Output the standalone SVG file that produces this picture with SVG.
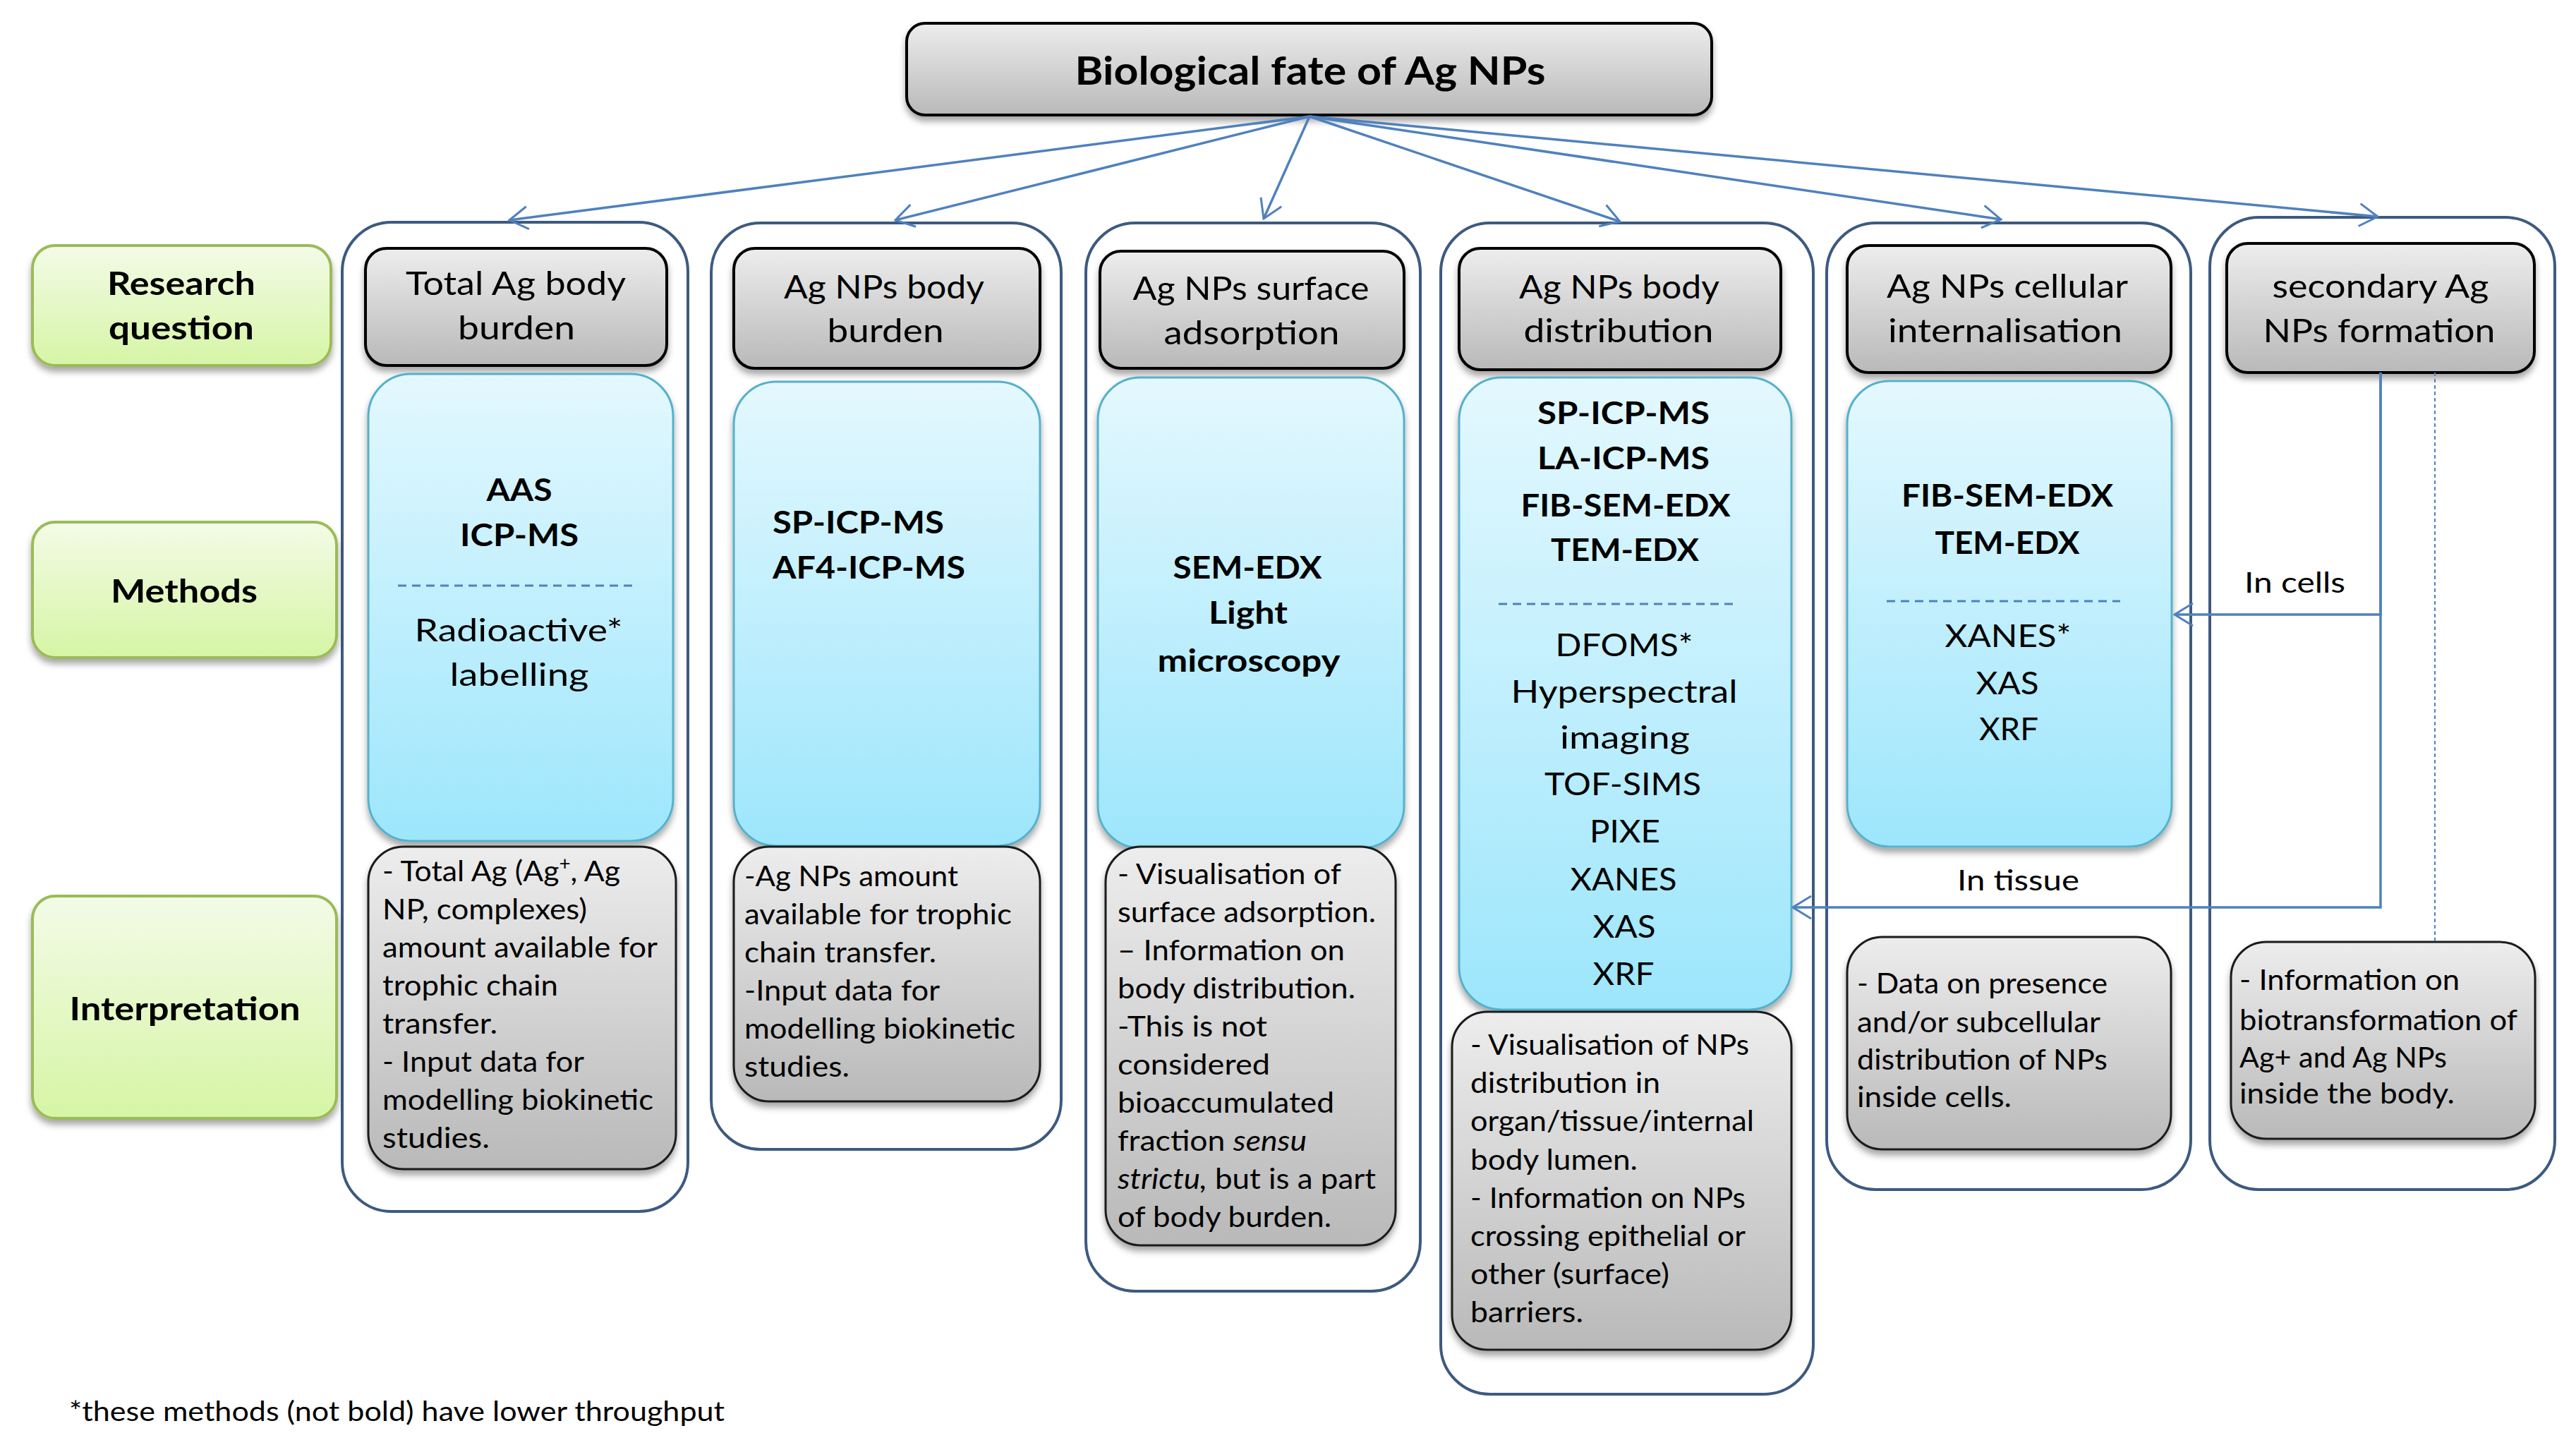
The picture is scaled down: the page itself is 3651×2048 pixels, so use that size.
<svg xmlns="http://www.w3.org/2000/svg" width="3651" height="2048" viewBox="0 0 3651 2048">
<style>
text{font-family:Lato,"Liberation Sans",Arial,sans-serif;fill:#000}
.m{text-anchor:middle}
.b{font-weight:bold}
.tt{font-size:56px;font-weight:bold}
.lab{font-size:46px;font-weight:bold}
.hd{font-size:46px}
.mt{font-size:44px}
.it{font-size:40px}
.fn{font-size:38px}
.cn{fill:none;stroke:#4f81bd;stroke-width:3.5}
.col{fill:#fff;stroke:#3d5a80;stroke-width:4}
.gray{fill:url(#gGray);stroke:#000;stroke-width:4;filter:url(#sh)}
.grayi{fill:url(#gGray);stroke:#1a1a1a;stroke-width:3;filter:url(#sh)}
.blue{fill:url(#gBlue);stroke:#55b1cc;stroke-width:3;filter:url(#sh)}
.green{fill:url(#gGreen);stroke:#9bbb59;stroke-width:4;filter:url(#sh)}
.sep{stroke:#4f81bd;stroke-width:3;stroke-dasharray:12 8;fill:none}
</style>
<defs>
<linearGradient id="gGray" x1="0" y1="0" x2="0" y2="1"><stop offset="0" stop-color="#ededed"/><stop offset="1" stop-color="#b9b9b9"/></linearGradient>
<linearGradient id="gBlue" x1="0" y1="0" x2="0" y2="1"><stop offset="0" stop-color="#e4f8fe"/><stop offset="1" stop-color="#9de6fc"/></linearGradient>
<linearGradient id="gGreen" x1="0" y1="0" x2="0" y2="1"><stop offset="0" stop-color="#f3fbe7"/><stop offset="1" stop-color="#d6f5a5"/></linearGradient>
<filter id="sh" x="-10%" y="-10%" width="120%" height="130%"><feDropShadow dx="0" dy="7" stdDeviation="5" flood-color="#000" flood-opacity="0.35"/></filter>
<marker id="ah" viewBox="0 0 30 40" refX="28" refY="20" markerWidth="30" markerHeight="40" markerUnits="userSpaceOnUse" orient="auto"><path d="M2,4 L28,20 L2,36" fill="none" stroke="#4f81bd" stroke-width="3"/></marker>
</defs>
<rect width="3651" height="2048" fill="#fff"/>

<g id="columns">
<rect id="col1" class="col" x="485" y="315" width="490" height="1402" rx="70"/>
<rect id="col2" class="col" x="1008" y="316" width="496" height="1313" rx="70"/>
<rect id="col3" class="col" x="1539" y="316" width="474" height="1514" rx="70"/>
<rect id="col4" class="col" x="2042" y="316" width="528" height="1660" rx="70"/>
<rect id="col5" class="col" x="2589" y="316" width="516" height="1370" rx="70"/>
<rect id="col6" class="col" x="3132" y="308" width="489" height="1378" rx="70"/>
</g>

<g id="title">
<rect class="gray" x="1285" y="33" width="1141" height="130" rx="26"/>
<text class="tt m" x="1857" y="120" textLength="667" lengthAdjust="spacingAndGlyphs">Biological fate of Ag NPs</text>
</g>

<g id="label-research">
<rect class="green" x="46" y="348" width="423" height="170" rx="32"/>
<text class="lab m" x="257" y="418" textLength="210" lengthAdjust="spacingAndGlyphs">Research</text>
<text class="lab m" x="257" y="481" textLength="206" lengthAdjust="spacingAndGlyphs">question</text>
</g>
<g id="label-methods">
<rect class="green" x="46" y="740" width="431" height="192" rx="32"/>
<text class="lab m" x="261" y="854" textLength="208" lengthAdjust="spacingAndGlyphs">Methods</text>
</g>
<g id="label-interpretation">
<rect class="green" x="46" y="1270" width="431" height="315" rx="32"/>
<text class="lab m" x="262" y="1446" textLength="327" lengthAdjust="spacingAndGlyphs">Interpretation</text>
</g>

<g id="h1">
<rect class="gray" x="518" y="352" width="427" height="166" rx="30"/>
<text class="hd m" x="731" y="418" textLength="312" lengthAdjust="spacingAndGlyphs">Total Ag body</text>
<text class="hd m" x="732" y="481" textLength="166" lengthAdjust="spacingAndGlyphs">burden</text>
</g>
<g id="h2">
<rect class="gray" x="1040" y="352" width="434" height="170" rx="30"/>
<text class="hd m" x="1253" y="423" textLength="284" lengthAdjust="spacingAndGlyphs">Ag NPs body</text>
<text class="hd m" x="1255" y="485" textLength="165" lengthAdjust="spacingAndGlyphs">burden</text>
</g>
<g id="h3">
<rect class="gray" x="1559" y="356" width="431" height="166" rx="30"/>
<text class="hd m" x="1773" y="425" textLength="335" lengthAdjust="spacingAndGlyphs">Ag NPs surface</text>
<text class="hd m" x="1774" y="488" textLength="249" lengthAdjust="spacingAndGlyphs">adsorption</text>
</g>
<g id="h4">
<rect class="gray" x="2068" y="352" width="456" height="172" rx="30"/>
<text class="hd m" x="2295" y="423" textLength="284" lengthAdjust="spacingAndGlyphs">Ag NPs body</text>
<text class="hd m" x="2294" y="485" textLength="269" lengthAdjust="spacingAndGlyphs">distribution</text>
</g>
<g id="h5">
<rect class="gray" x="2618" y="348" width="459" height="180" rx="30"/>
<text class="hd m" x="2845" y="422" textLength="342" lengthAdjust="spacingAndGlyphs">Ag NPs cellular</text>
<text class="hd m" x="2842" y="485" textLength="332" lengthAdjust="spacingAndGlyphs">internalisation</text>
</g>
<g id="h6">
<rect class="gray" x="3156" y="345" width="436" height="183" rx="30"/>
<text class="hd m" x="3374" y="422" textLength="307" lengthAdjust="spacingAndGlyphs">secondary Ag</text>
<text class="hd m" x="3372" y="485" textLength="329" lengthAdjust="spacingAndGlyphs">NPs formation</text>
</g>

<g id="m1">
<rect class="blue" x="522" y="530" width="432" height="662" rx="60"/>
<text class="mt b m" x="736" y="710" textLength="93" lengthAdjust="spacingAndGlyphs">AAS</text>
<text class="mt b m" x="736" y="774" textLength="168" lengthAdjust="spacingAndGlyphs">ICP-MS</text>
<line class="sep" x1="564" y1="830" x2="899" y2="830"/>
<text class="mt m" x="735" y="909" textLength="295" lengthAdjust="spacingAndGlyphs">Radioactive*</text>
<text class="mt m" x="736" y="972" textLength="197" lengthAdjust="spacingAndGlyphs">labelling</text>
</g>
<g id="m2">
<rect class="blue" x="1040" y="541" width="434" height="658" rx="60"/>
<text class="mt b" x="1095" y="756" textLength="243" lengthAdjust="spacingAndGlyphs">SP-ICP-MS</text>
<text class="mt b" x="1095" y="820" textLength="273" lengthAdjust="spacingAndGlyphs">AF4-ICP-MS</text>
</g>
<g id="m3">
<rect class="blue" x="1556" y="535" width="434" height="667" rx="60"/>
<text class="mt b m" x="1768" y="820" textLength="211" lengthAdjust="spacingAndGlyphs">SEM-EDX</text>
<text class="mt b m" x="1769" y="884" textLength="112" lengthAdjust="spacingAndGlyphs">Light</text>
<text class="mt b m" x="1770" y="952" textLength="259" lengthAdjust="spacingAndGlyphs">microscopy</text>
</g>
<g id="m4">
<rect class="blue" x="2068" y="535" width="471" height="896" rx="60"/>
<text class="mt b m" x="2301" y="601" textLength="244" lengthAdjust="spacingAndGlyphs">SP-ICP-MS</text>
<text class="mt b m" x="2301" y="665" textLength="244" lengthAdjust="spacingAndGlyphs">LA-ICP-MS</text>
<text class="mt b m" x="2304" y="732" textLength="297" lengthAdjust="spacingAndGlyphs">FIB-SEM-EDX</text>
<text class="mt b m" x="2303" y="795" textLength="210" lengthAdjust="spacingAndGlyphs">TEM-EDX</text>
<line class="sep" x1="2124" y1="856" x2="2458" y2="856"/>
<text class="mt m" x="2302" y="930" textLength="195" lengthAdjust="spacingAndGlyphs">DFOMS*</text>
<text class="mt m" x="2302" y="996" textLength="321" lengthAdjust="spacingAndGlyphs">Hyperspectral</text>
<text class="mt m" x="2303" y="1061" textLength="184" lengthAdjust="spacingAndGlyphs">imaging</text>
<text class="mt m" x="2300" y="1127" textLength="222" lengthAdjust="spacingAndGlyphs">TOF-SIMS</text>
<text class="mt m" x="2303" y="1194" textLength="100" lengthAdjust="spacingAndGlyphs">PIXE</text>
<text class="mt m" x="2301" y="1262" textLength="151" lengthAdjust="spacingAndGlyphs">XANES</text>
<text class="mt m" x="2302" y="1329" textLength="89" lengthAdjust="spacingAndGlyphs">XAS</text>
<text class="mt m" x="2301" y="1396" textLength="87" lengthAdjust="spacingAndGlyphs">XRF</text>
</g>
<g id="m5">
<rect class="blue" x="2618" y="540" width="460" height="660" rx="60"/>
<text class="mt b m" x="2845" y="718" textLength="300" lengthAdjust="spacingAndGlyphs">FIB-SEM-EDX</text>
<text class="mt b m" x="2845" y="785" textLength="205" lengthAdjust="spacingAndGlyphs">TEM-EDX</text>
<line class="sep" x1="2674" y1="852" x2="3005" y2="852"/>
<text class="mt m" x="2846" y="917" textLength="179" lengthAdjust="spacingAndGlyphs">XANES*</text>
<text class="mt m" x="2845" y="984" textLength="89" lengthAdjust="spacingAndGlyphs">XAS</text>
<text class="mt m" x="2847" y="1049" textLength="84" lengthAdjust="spacingAndGlyphs">XRF</text>
</g>

<g id="i1">
<rect class="grayi" x="522" y="1200" width="436" height="457" rx="50"/>
<text class="it" x="542" y="1249" textLength="337" lengthAdjust="spacingAndGlyphs">- Total Ag (Ag<tspan baseline-shift="super" font-size="26">+</tspan>, Ag</text>
<text class="it" x="542" y="1303" textLength="290" lengthAdjust="spacingAndGlyphs">NP, complexes)</text>
<text class="it" x="542" y="1357" textLength="390" lengthAdjust="spacingAndGlyphs">amount available for</text>
<text class="it" x="542" y="1411" textLength="249" lengthAdjust="spacingAndGlyphs">trophic chain</text>
<text class="it" x="542" y="1465" textLength="163" lengthAdjust="spacingAndGlyphs">transfer.</text>
<text class="it" x="542" y="1519" textLength="286" lengthAdjust="spacingAndGlyphs">- Input data for</text>
<text class="it" x="542" y="1573" textLength="384" lengthAdjust="spacingAndGlyphs">modelling biokinetic</text>
<text class="it" x="542" y="1627" textLength="152" lengthAdjust="spacingAndGlyphs">studies.</text>
</g>
<g id="i2">
<rect class="grayi" x="1040" y="1200" width="434" height="361" rx="50"/>
<text class="it" x="1055" y="1256" textLength="303" lengthAdjust="spacingAndGlyphs">-Ag NPs amount</text>
<text class="it" x="1055" y="1310" textLength="379" lengthAdjust="spacingAndGlyphs">available for trophic</text>
<text class="it" x="1055" y="1364" textLength="272" lengthAdjust="spacingAndGlyphs">chain transfer.</text>
<text class="it" x="1055" y="1418" textLength="277" lengthAdjust="spacingAndGlyphs">-Input data for</text>
<text class="it" x="1055" y="1472" textLength="384" lengthAdjust="spacingAndGlyphs">modelling biokinetic</text>
<text class="it" x="1055" y="1526" textLength="149" lengthAdjust="spacingAndGlyphs">studies.</text>
</g>
<g id="i3">
<rect class="grayi" x="1567" y="1200" width="411" height="565" rx="50"/>
<text class="it" x="1584" y="1253" textLength="317" lengthAdjust="spacingAndGlyphs">- Visualisation of</text>
<text class="it" x="1584" y="1307" textLength="366" lengthAdjust="spacingAndGlyphs">surface adsorption.</text>
<text class="it" x="1584" y="1361" textLength="322" lengthAdjust="spacingAndGlyphs">– Information on</text>
<text class="it" x="1584" y="1415" textLength="337" lengthAdjust="spacingAndGlyphs">body distribution.</text>
<text class="it" x="1584" y="1469" textLength="212" lengthAdjust="spacingAndGlyphs">-This is not</text>
<text class="it" x="1584" y="1523" textLength="216" lengthAdjust="spacingAndGlyphs">considered</text>
<text class="it" x="1584" y="1577" textLength="307" lengthAdjust="spacingAndGlyphs">bioaccumulated</text>
<text class="it" x="1584" y="1631" textLength="268" lengthAdjust="spacingAndGlyphs">fraction <tspan font-style="italic">sensu</tspan></text>
<text class="it" x="1584" y="1685" textLength="366" lengthAdjust="spacingAndGlyphs"><tspan font-style="italic">strictu,</tspan> but is a part</text>
<text class="it" x="1584" y="1739" textLength="303" lengthAdjust="spacingAndGlyphs">of body burden.</text>
</g>
<g id="i4">
<rect class="grayi" x="2058" y="1434" width="481" height="479" rx="50"/>
<text class="it" x="2084" y="1495" textLength="395" lengthAdjust="spacingAndGlyphs">- Visualisation of NPs</text>
<text class="it" x="2084" y="1549" textLength="269" lengthAdjust="spacingAndGlyphs">distribution in</text>
<text class="it" x="2084" y="1603" textLength="402" lengthAdjust="spacingAndGlyphs">organ/tissue/internal</text>
<text class="it" x="2084" y="1658" textLength="237" lengthAdjust="spacingAndGlyphs">body lumen.</text>
<text class="it" x="2084" y="1712" textLength="390" lengthAdjust="spacingAndGlyphs">- Information on NPs</text>
<text class="it" x="2084" y="1766" textLength="390" lengthAdjust="spacingAndGlyphs">crossing epithelial or</text>
<text class="it" x="2084" y="1820" textLength="282" lengthAdjust="spacingAndGlyphs">other (surface)</text>
<text class="it" x="2084" y="1874" textLength="160" lengthAdjust="spacingAndGlyphs">barriers.</text>
</g>
<g id="i5">
<rect class="grayi" x="2618" y="1328" width="459" height="301" rx="50"/>
<text class="it" x="2632" y="1408" textLength="355" lengthAdjust="spacingAndGlyphs">- Data on presence</text>
<text class="it" x="2632" y="1463" textLength="345" lengthAdjust="spacingAndGlyphs">and/or subcellular</text>
<text class="it" x="2632" y="1516" textLength="355" lengthAdjust="spacingAndGlyphs">distribution of NPs</text>
<text class="it" x="2632" y="1569" textLength="219" lengthAdjust="spacingAndGlyphs">inside cells.</text>
</g>
<g id="i6">
<rect class="grayi" x="3162" y="1335" width="431" height="279" rx="50"/>
<text class="it" x="3174" y="1403" textLength="312" lengthAdjust="spacingAndGlyphs">- Information on</text>
<text class="it" x="3174" y="1460" textLength="394" lengthAdjust="spacingAndGlyphs">biotransformation of</text>
<text class="it" x="3174" y="1513" textLength="294" lengthAdjust="spacingAndGlyphs">Ag+ and Ag NPs</text>
<text class="it" x="3174" y="1564" textLength="305" lengthAdjust="spacingAndGlyphs">inside the body.</text>
</g>

<g id="connectors">
<line class="cn" x1="1856" y1="165" x2="722" y2="312" marker-end="url(#ah)"/>
<line class="cn" x1="1856" y1="165" x2="1269" y2="312" marker-end="url(#ah)"/>
<line class="cn" x1="1856" y1="165" x2="1791" y2="310" marker-end="url(#ah)" stroke-width="2.5"/>
<line class="cn" x1="1856" y1="165" x2="2296" y2="314" marker-end="url(#ah)"/>
<line class="cn" x1="1856" y1="165" x2="2836" y2="311" marker-end="url(#ah)"/>
<line class="cn" x1="1856" y1="165" x2="3370" y2="307" marker-end="url(#ah)"/>
<path class="cn" d="M3374,528 V871 H3082" marker-end="url(#ah)" stroke-width="3"/>
<path class="cn" d="M3374,528 V1286 H2541" marker-end="url(#ah)" stroke-width="3"/>
<line x1="3451" y1="528" x2="3451" y2="1335" stroke="#4f81bd" stroke-width="2" stroke-dasharray="5 4"/>
<text class="it" x="3181" y="840" textLength="143" lengthAdjust="spacingAndGlyphs">In cells</text>
<text class="it" x="2774" y="1262" textLength="173" lengthAdjust="spacingAndGlyphs">In tissue</text>
</g>

<text class="fn" x="98" y="2014" textLength="929" lengthAdjust="spacingAndGlyphs">*these methods (not bold) have lower throughput</text>
</svg>
